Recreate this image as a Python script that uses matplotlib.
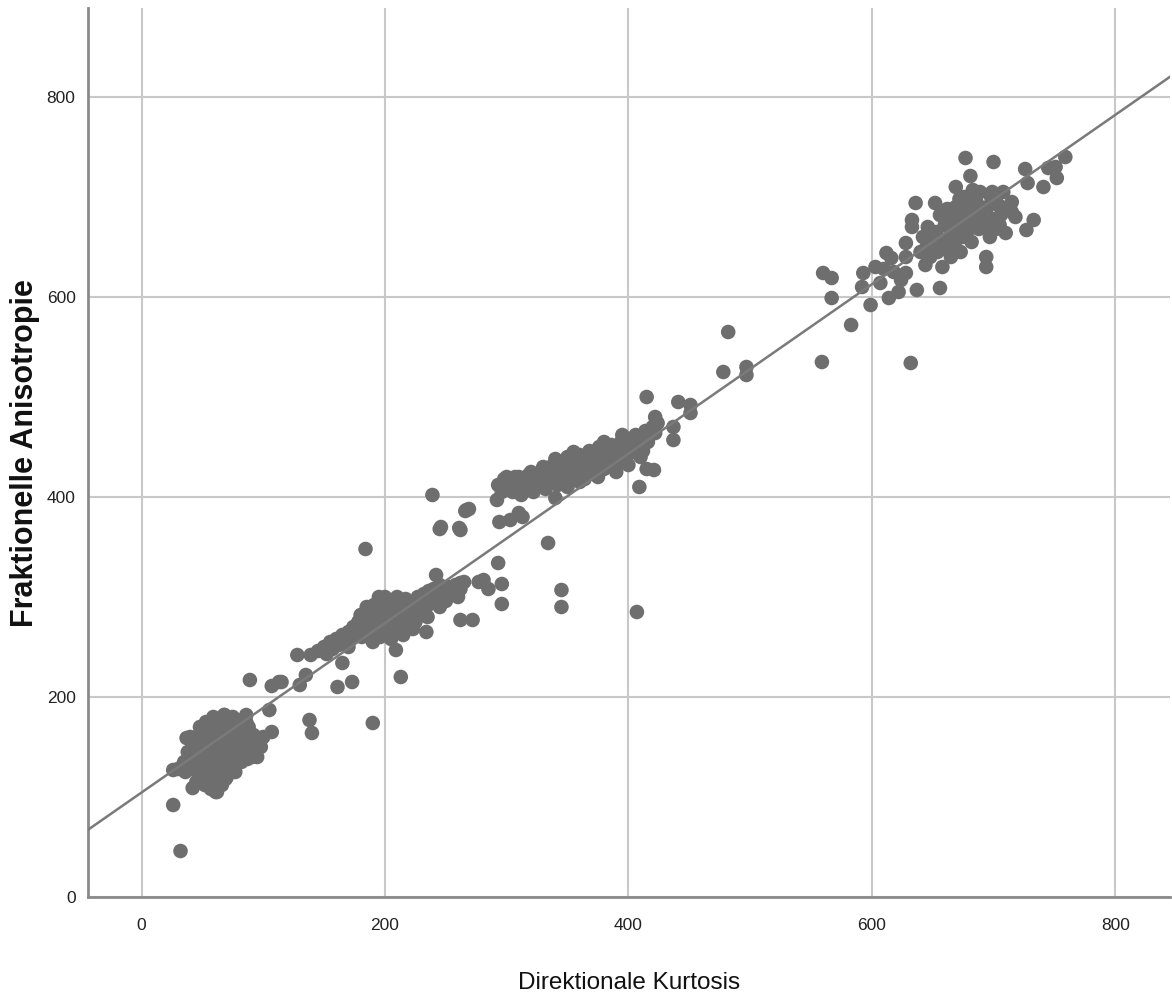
import matplotlib
matplotlib.use("Agg")
import matplotlib.pyplot as plt

# ---------------- data ----------------
low_x = [35,38,40,42,43,45,46,47,48,50,50,51,52,53,54,55,55,56,57,58,58,59,60,60,61,62,62,63,64,64,
         65,66,66,67,67,68,68,69,70,70,71,72,72,73,74,75,75,76,77,78,78,79,80,81,82,83,84,85,86,87,
         88,90,92,94,96,98,100,45,52,57,62,66,70,40,48,53,59,65,75,36,33,30,
         44,50,56,63,69,74,80,86,91,
         32,26,26,42,61,37,86,68,95,99]
low_y = [135,145,130,150,138,160,125,145,155,135,165,120,148,158,130,170,142,152,125,162,137,147,115,168,155,132,143,175,122,160,
         150,138,168,128,145,182,157,118,140,165,150,130,175,160,145,135,170,155,125,163,148,140,172,155,135,165,150,145,160,138,
         170,152,162,145,158,150,160,115,112,108,105,112,120,160,170,175,180,178,180,125,130,128,
         142,128,160,150,134,152,145,175,140,
         46,92,127,109,105,159,182,182,140,159]

mid_x = [145,150,152,155,157,160,162,165,168,170,172,174,176,178,180,181,183,185,186,188,189,190,191,192,193,195,196,197,198,199,
         200,201,202,203,204,205,206,207,208,209,210,212,213,214,215,217,218,220,222,223,225,227,228,230,232,234,236,238,240,242,
         245,248,250,252,255,258,260,262,265,
         185,195,205,215,225,235,245,180,170,200,210,190,
         89,107,113,105,107,130,135,138,140,115,128,139,
         184,190,161,173,165,213,209,234,262,242,262,277,239,245,262,266,269,281,285,272,293,296,296]
mid_y = [246,250,243,255,248,258,252,262,255,265,258,270,262,275,268,260,278,270,262,285,275,265,292,280,270,288,260,278,295,268,
         285,275,262,292,280,270,288,296,276,265,284,292,272,280,290,298,278,286,294,268,290,300,282,296,303,290,306,298,308,300,
         312,305,296,310,303,312,300,308,315,
         290,300,258,262,275,280,290,282,250,300,300,255,
         217,211,215,187,165,212,222,177,164,215,242,242,
         348,174,210,215,234,220,247,265,277,322,314,315,402,368,367,386,388,317,308,277,334,313,293]

up_x = [293,296,298,300,303,305,307,310,312,314,316,318,320,322,324,326,328,330,332,334,336,338,340,342,344,345,347,349,350,352,
        354,356,358,360,362,364,366,368,370,372,374,376,378,380,382,384,386,388,390,392,394,396,398,400,402,404,406,408,410,412,
        414,416,418,420,422,424,
        330,340,350,360,370,380,390,400,410,395,375,355,320,310,300,
        292,294,303,310,313,340,334,345,345,407,409,421,415,398,415,441,451,451,437,437,422,482,478,497,497,267,261,246]
up_y = [412,405,418,410,415,405,420,412,402,418,408,422,413,405,420,412,425,416,408,422,430,418,426,412,435,422,430,418,440,428,
        420,435,425,442,430,418,438,446,432,425,440,450,436,428,445,438,452,442,448,435,455,445,440,458,450,445,462,452,458,446,
        466,455,462,470,480,474,
        430,438,410,415,445,455,425,432,440,462,420,445,425,420,420,
        397,375,377,384,380,399,354,307,290,285,410,427,428,439,500,495,492,484,470,457,464,565,525,530,522,387,369,370]

top_x = [559,560,567,567,583,593,592,599,603,607,614,612,616,622,628,628,628,632,633,633,636,637,640,642,644,645,646,648,650,652,
         653,654,656,656,657,658,660,661,662,664,665,666,668,669,669,670,672,673,674,675,676,677,678,680,681,682,683,684,686,688,
         689,690,692,694,694,695,697,698,699,700,700,702,704,706,708,710,712,715,715,718,726,728,727,733,741,745,751,752,759,
         618,624,610,648,663,678,690,705]
top_y = [535,624,619,599,572,624,610,592,630,614,599,644,639,605,654,640,624,534,677,670,694,607,645,660,632,650,670,640,656,694,
         665,645,609,682,655,630,672,648,688,660,640,678,652,710,690,666,698,645,680,660,700,739,672,688,721,655,707,678,695,668,
         705,685,672,640,630,690,660,700,705,735,678,668,692,682,705,664,690,695,685,680,728,714,667,677,710,729,730,719,740,
         625,617,628,662,684,664,676,672]

fit_intercept = 104.5
fit_slope = 0.847

x_ticks = [0, 200, 400, 600, 800]
y_ticks = [0, 200, 400, 600, 800]
x_label = "Direktionale Kurtosis"
y_label = "Fraktionelle Anisotropie"

# ---------------- plot ----------------
font = "Liberation Sans"

fig = plt.figure(figsize=(11.72, 10), dpi=100)
ax = fig.add_axes([88/1172, 103/1000, (1170-88)/1172, (897-8)/1000])

xs = low_x + mid_x + up_x + top_x
ys = low_y + mid_y + up_y + top_y
ax.scatter(xs, ys, s=110, color="#6e6e6e", edgecolors="none", zorder=3)

xl = (-44, 845)
ax.plot(list(xl), [fit_intercept + fit_slope * v for v in xl], color="#7a7a7a", lw=1.8, zorder=4)

ax.set_xlim(*xl)
ax.set_ylim(0, 889)
ax.set_xticks(x_ticks)
ax.set_yticks(y_ticks)
ax.grid(True, color="#c8c8c8", lw=1.5, zorder=0)
ax.set_axisbelow(True)
for s in ("top", "right"):
    ax.spines[s].set_visible(False)
for s in ("left", "bottom"):
    ax.spines[s].set_color("#8a8a8a")
    ax.spines[s].set_linewidth(2)
ax.tick_params(length=0, labelsize=12.5, labelcolor="#222222")
ax.tick_params(axis="x", pad=15)
ax.tick_params(axis="y", pad=9)
for t in ax.get_xticklabels() + ax.get_yticklabels():
    t.set_fontfamily(font)

fig.text(629/1172, 17/1000, x_label, ha="center", va="center", fontsize=17.5,
         fontfamily=font, color="#111111")
fig.text(25/1172, 1 - 453/1000, y_label, ha="center", va="center", rotation=90,
         fontsize=22, fontweight="bold", fontfamily=font, color="#111111")

fig.savefig("out.png", dpi=100)
